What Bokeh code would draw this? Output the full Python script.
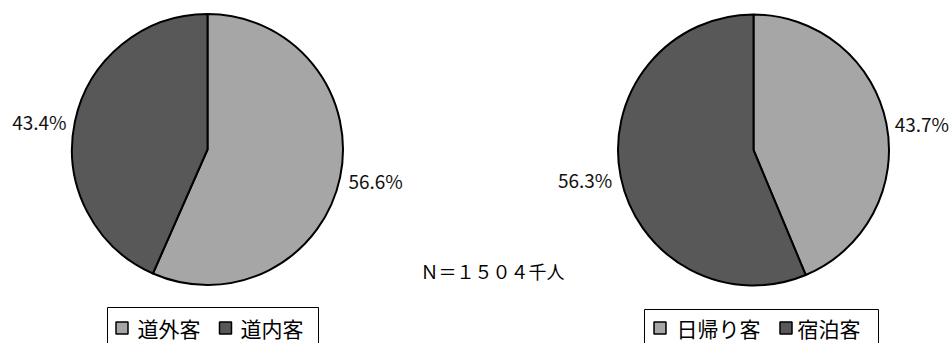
import math

from bokeh.core.properties import value
from bokeh.embed import file_html
from bokeh.models import ColumnDataSource, Range1d
from bokeh.plotting import figure
from bokeh.resources import INLINE

# ---- data -------------------------------------------------------------
origin_labels = ["道外客", "道内客"]
origin_values = [56.6, 43.4]

stay_labels = ["日帰り客", "宿泊客"]
stay_values = [43.7, 56.3]

total_label = "Ｎ＝１５０４千人"

slice_colors = ["#a6a6a6", "#585858"]

# ---- layout (pixel units, y measured upward) --------------------------
W, H = 951, 343
FONT = "Noto Sans CJK JP"
RADIUS = 135.5
LABEL_R = 144

pies = [
    dict(labels=origin_labels, values=origin_values, cx=207, cy=H - 149,
         box=(107, 318, H - 307),
         marks=[121.5, 225.0], texts=[137, 240]),
    dict(labels=stay_labels, values=stay_values, cx=753, cy=H - 149.5,
         box=(644, 878, H - 309),
         marks=[659.5, 785.5], texts=[676, 797]),
]

p = figure(width=W, height=H, output_backend="svg", toolbar_location=None,
           x_range=Range1d(0, W), y_range=Range1d(0, H),
           min_border=0, background_fill_color="white",
           border_fill_color="white")
p.outline_line_color = None
p.xaxis.visible = False
p.yaxis.visible = False
p.grid.visible = False

for pie in pies:
    vals = pie["values"]
    total = sum(vals)
    starts, ends, lx, ly, align, texts = [], [], [], [], [], []
    acc = 0.0
    for v in vals:
        a0 = math.pi / 2 - 2 * math.pi * acc / total
        acc += v
        a1 = math.pi / 2 - 2 * math.pi * acc / total
        starts.append(a0)
        ends.append(a1)
        mid = (a0 + a1) / 2
        lx.append(pie["cx"] + LABEL_R * math.cos(mid))
        ly.append(pie["cy"] + LABEL_R * math.sin(mid) - 1.5)
        align.append("left" if math.cos(mid) >= 0 else "right")
        texts.append(f"{v:.1f}%")

    src = ColumnDataSource(dict(
        x=[pie["cx"]] * len(vals), y=[pie["cy"]] * len(vals),
        start=starts, end=ends, color=slice_colors[:len(vals)],
        lx=lx, ly=ly, align=align, text=texts,
    ))
    p.wedge(x="x", y="y", radius=RADIUS, start_angle="start",
            end_angle="end", direction="clock", fill_color="color",
            line_color="black", line_width=2, source=src)
    p.text(x="lx", y="ly", text="text", text_align="align",
           text_baseline="middle", text_font=value(FONT),
           text_font_size="19px", text_color="#111111", source=src)

    # legend frame, clipped by the bottom edge
    left, right, top = pie["box"]
    p.quad(left=[left], right=[right], top=[top], bottom=[-20],
           fill_color="white", line_color="black", line_width=1)
    ley = H - 327.5
    p.rect(x=pie["marks"], y=[ley] * len(vals), width=12, height=12,
           fill_color=slice_colors[:len(vals)], line_color="black",
           line_width=1.5)
    p.text(x=pie["texts"], y=[ley] * len(vals), text=pie["labels"],
           text_align="left", text_baseline="middle",
           text_font=value(FONT), text_font_size="21px",
           text_color="black")

p.text(x=[492], y=[H - 270], text=[total_label], text_align="center",
       text_baseline="middle", text_font=value(FONT),
       text_font_size="18px", text_color="black")

open("out.html", "w").write(file_html(p, INLINE))
